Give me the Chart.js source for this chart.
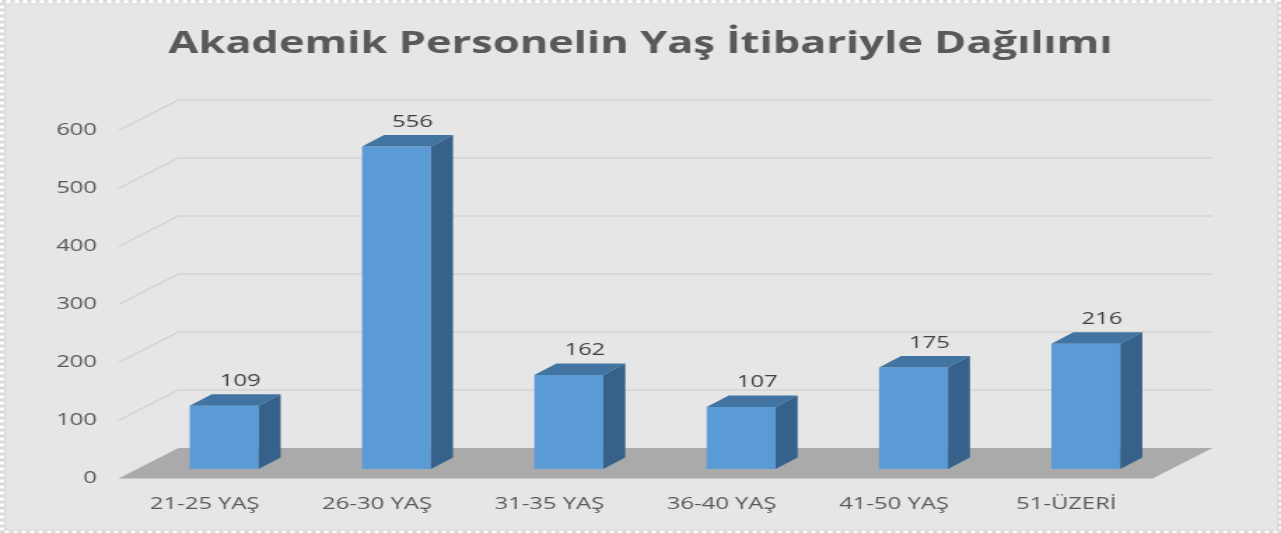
<!DOCTYPE html>
<html lang="tr">
<head>
<meta charset="utf-8">
<title>Akademik Personelin Yaş İtibariyle Dağılımı</title>
<script src="https://cdn.jsdelivr.net/npm/chart.js@4.4.1/dist/chart.umd.min.js"></script>
<style>
    html, body { margin: 0; padding: 0; background: #ffffff; overflow: hidden; }
    #caixa { width: 1281px; height: 533px; overflow: hidden; }
    /* o original é esticado na horizontal, então o canvas também */
    #grafico { display: block; transform: scaleX(1.4); transform-origin: 0 0; }
</style>
</head>
<body>
<div id="caixa"><canvas id="grafico" width="915" height="533"></canvas></div>
<script>
// Dados do gráfico
const titulo = 'Akademik Personelin Yaş İtibariyle Dağılımı';
const categorias = ['21-25 YAŞ', '26-30 YAŞ', '31-35 YAŞ', '36-40 YAŞ', '41-50 YAŞ', '51-ÜZERİ'];
const valores = [109, 556, 162, 107, 175, 216];
const marcasY = [0, 100, 200, 300, 400, 500, 600];

// Fator de esticamento horizontal e profundidades do efeito 3D
const ESTICAR = 1.4;
const frente = { x: -19.5 / ESTICAR, y: 9.5 };
const fundo = { x: 40.5 / ESTICAR, y: -21 };
const barra3d = { x: 22 / ESTICAR, y: -11.5 };
const fonte = "'Open Sans', 'DejaVu Sans', sans-serif";

// Plugin que desenha o painel, o chão, a grade e as faces das barras
const efeito3d = {
    id: 'efeito3d',
    beforeDraw(chart) {
        const ctx = chart.ctx;
        const w = chart.width;
        const h = chart.height;
        ctx.save();
        ctx.fillStyle = '#ffffff';
        ctx.fillRect(0, 0, w, h);
        ctx.strokeStyle = '#dadada';
        ctx.lineWidth = 3;
        ctx.setLineDash([3, 3]);
        ctx.strokeRect(1.5, 1.5, w - 3, h - 3);
        ctx.setLineDash([]);
        ctx.fillStyle = '#e6e6e6';
        ctx.fillRect(5 / ESTICAR, 4, 1273 / ESTICAR, 526);
        ctx.strokeStyle = '#d6d6d6';
        ctx.lineWidth = 1;
        ctx.strokeRect(5 / ESTICAR, 4, 1273 / ESTICAR, 526);
        ctx.restore();
    },
    beforeDatasetsDraw(chart) {
        const ctx = chart.ctx;
        const area = chart.chartArea;
        const eixoY = chart.scales.y;
        const y0 = eixoY.getPixelForValue(0);
        ctx.save();

        // chão
        ctx.fillStyle = '#aaaaaa';
        ctx.beginPath();
        ctx.moveTo(area.left + frente.x, y0 + frente.y);
        ctx.lineTo(area.right + frente.x, y0 + frente.y);
        ctx.lineTo(area.right + fundo.x, y0 + fundo.y);
        ctx.lineTo(area.left + fundo.x, y0 + fundo.y);
        ctx.closePath();
        ctx.fill();

        // linhas de grade (lateral + fundo)
        ctx.strokeStyle = '#d3d3d3';
        ctx.lineWidth = 1.5;
        eixoY.ticks.forEach(function (t) {
            if (t.value === 0) return;
            const py = eixoY.getPixelForValue(t.value);
            ctx.beginPath();
            ctx.moveTo(area.left + frente.x, py + frente.y);
            ctx.lineTo(area.left + fundo.x, py + fundo.y);
            ctx.lineTo(area.right + fundo.x, py + fundo.y);
            ctx.stroke();
        });
        ctx.restore();
    },
    afterDatasetsDraw(chart) {
        const ctx = chart.ctx;
        const meta = chart.getDatasetMeta(0);
        ctx.save();
        meta.data.forEach(function (barra, i) {
            const x1 = barra.x - barra.width / 2;
            const x2 = barra.x + barra.width / 2;
            const yt = barra.y;
            const yb = barra.base;

            // face de cima
            ctx.fillStyle = '#4274a1';
            ctx.beginPath();
            ctx.moveTo(x1, yt);
            ctx.lineTo(x2, yt);
            ctx.lineTo(x2 + barra3d.x, yt + barra3d.y);
            ctx.lineTo(x1 + barra3d.x, yt + barra3d.y);
            ctx.closePath();
            ctx.fill();

            // face lateral
            ctx.fillStyle = '#36618a';
            ctx.beginPath();
            ctx.moveTo(x2, yt);
            ctx.lineTo(x2, yb);
            ctx.lineTo(x2 + barra3d.x, yb + barra3d.y);
            ctx.lineTo(x2 + barra3d.x, yt + barra3d.y);
            ctx.closePath();
            ctx.fill();

            // rótulo do valor
            ctx.fillStyle = '#404040';
            ctx.font = '17px ' + fonte;
            ctx.textAlign = 'center';
            ctx.textBaseline = 'middle';
            ctx.fillText(String(valores[i]), barra.x + 16 / ESTICAR, yt + barra3d.y - 13);
        });
        ctx.restore();
    }
};

function plotarGrafico() {
    console.log('iniciando plotagem do gráfico...');

    let dados = {
        labels: categorias,
        datasets: [{
            label: 'Akademik Personel',
            data: valores,
            backgroundColor: '#5b9bd5',
            borderWidth: 0,
            barPercentage: 0.4,
            categoryPercentage: 1
        }]
    };

    const config = {
        type: 'bar',
        data: dados,
        options: {
            responsive: false,
            animation: false,
            devicePixelRatio: 1,
            layout: { padding: 0 },
            plugins: {
                legend: { display: false },
                tooltip: { enabled: false },
                title: {
                    display: true,
                    text: titulo,
                    color: '#595959',
                    font: { family: fonte, size: 31, weight: 'bold' },
                    padding: { top: 25.5, bottom: 58.3 }
                }
            },
            scales: {
                x: {
                    grid: { display: false, drawTicks: false },
                    border: { display: false },
                    ticks: {
                        color: '#595959',
                        font: { family: fonte, size: 17 },
                        padding: 25,
                        labelOffset: frente.x,
                        maxRotation: 0,
                        autoSkip: false
                    },
                    afterFit: function (s) { s.height = 64; }
                },
                y: {
                    min: marcasY[0],
                    max: marcasY[marcasY.length - 1],
                    grid: { display: false, drawTicks: false },
                    border: { display: false },
                    ticks: {
                        stepSize: marcasY[1] - marcasY[0],
                        color: '#595959',
                        font: { family: fonte, size: 17 },
                        padding: 41 / ESTICAR,
                        labelOffset: frente.y
                    },
                    afterFit: function (s) { s.width = 138 / ESTICAR; }
                },
                // eixo vazio só para reservar o espaço à direita
                direita: {
                    type: 'linear',
                    position: 'right',
                    grid: { display: false, drawTicks: false },
                    border: { display: false },
                    ticks: { display: false },
                    afterFit: function (s) { s.width = (1281 - 1172) / ESTICAR; }
                }
            }
        },
        plugins: [efeito3d]
    };

    let myChart = new Chart(document.getElementById('grafico'), config);
}

Promise.all([
    document.fonts.load("bold 31px 'Open Sans'"),
    document.fonts.load("17px 'Open Sans'")
]).then(plotarGrafico, plotarGrafico);
</script>
</body>
</html>
